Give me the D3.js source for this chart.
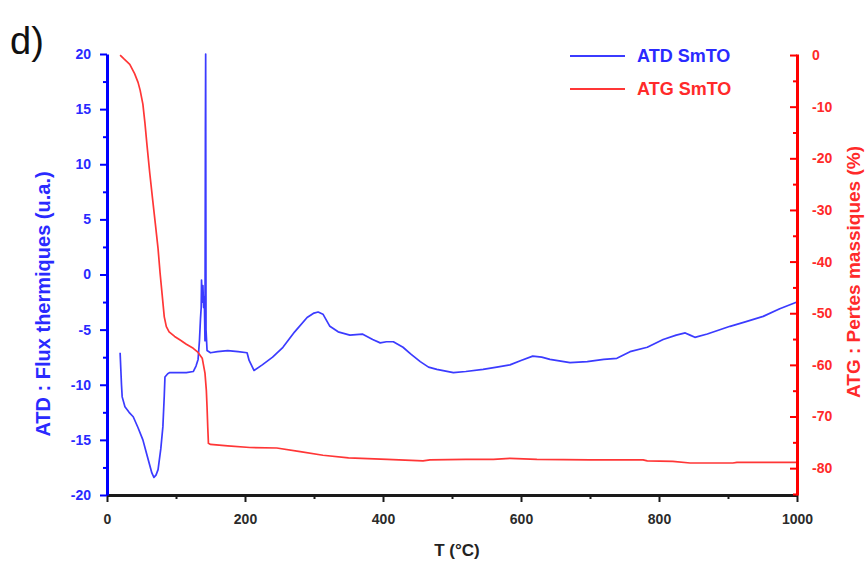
<!DOCTYPE html>
<html>
<head>
<meta charset="utf-8">
<script src="https://cdn.jsdelivr.net/npm/d3@7"></script>
<style>
  body { margin: 0; background: #fff; }
  svg { font-family: "Liberation Sans", Arial, sans-serif; }
</style>
</head>
<body>
<svg id="chart" width="867" height="563"></svg>
<script>
// ATD : flux thermique (axe gauche)
const atdT = [19, 21, 22, 26, 32, 38, 45, 52, 58, 65, 68, 71, 74, 78, 81, 83, 84, 88, 91, 105, 115, 125, 129, 132, 134, 135.5,
  136.5, 137, 138, 139, 140, 141, 142, 142.6, 143, 143.5, 145, 150, 160, 175, 190, 203, 206, 213, 225, 240, 255, 272, 290,
  300, 306, 313, 323, 335, 352, 370, 385, 396, 405, 415, 429, 440, 454, 466, 478, 502, 520, 545, 565, 584, 600, 617, 630,
  642, 671, 696, 720, 739, 758, 783, 806, 825, 838, 845, 852, 870, 903, 925, 951, 975, 1000];
const atdV = [-7.1, -10.0, -11.1, -12.0, -12.5, -12.9, -13.9, -15.0, -16.4, -18.0, -18.4, -18.2, -17.7, -15.8, -13.8, -11.0, -9.3,
  -9.0, -8.9, -8.9, -8.9, -8.8, -8.3, -7.7, -6.0, -4.0,
  -3.0, -0.5, -2.5, -1.0, -3.0, -2.0, -6.0, 13, 20, -5, -6.9, -7.1, -7.0, -6.9, -7.0, -7.1, -7.8, -8.7, -8.2, -7.5, -6.6, -5.2, -3.9,
  -3.5, -3.4, -3.6, -4.7, -5.2, -5.5, -5.4, -5.9, -6.2, -6.1, -6.1, -6.6, -7.2, -7.9, -8.4, -8.6, -8.9, -8.8, -8.6, -8.4, -8.2, -7.8, -7.4, -7.5,
  -7.7, -8.0, -7.9, -7.7, -7.6, -7.0, -6.6, -5.9, -5.5, -5.3, -5.5, -5.7, -5.4, -4.7, -4.3, -3.8, -3.1, -2.5];

// ATG : pertes massiques (axe droit)
const atgT = [19, 25, 33, 40, 45, 48, 52, 55, 58, 62, 66, 70, 74, 77, 80, 83, 86, 90, 98, 106, 115, 125, 132, 138, 142, 144, 145, 146, 147,
  150, 175, 207, 246, 280, 313, 350, 406, 458, 468, 520, 560, 584, 623, 700, 777, 783, 820, 845, 907, 913, 1000];
const atgV = [0, -0.8, -1.8, -3.6, -5.3, -6.8, -9.5, -13.2, -17.5, -22.9, -27.8, -32.6, -37.5, -42.3, -46.5, -50.7, -52.6, -53.6, -54.5,
  -55.2, -56.0, -56.8, -57.6, -58.7, -61.6, -65.0, -68.2, -72.0, -75.2,
  -75.4, -75.7, -76.0, -76.1, -76.8, -77.5, -78.0, -78.3, -78.6, -78.4, -78.3, -78.3, -78.1, -78.3, -78.4, -78.4, -78.6, -78.7, -79.0, -79.0, -78.9, -78.9];

const xTicks = [0, 200, 400, 600, 800, 1000];
const xMinor = [100, 300, 500, 700, 900];
const leftTicks = [-20, -15, -10, -5, 0, 5, 10, 15, 20];
const leftMinor = [-17.5, -12.5, -7.5, -2.5, 2.5, 7.5, 12.5, 17.5];
const rightTicks = [0, -10, -20, -30, -40, -50, -60, -70, -80];
const rightMinor = [-5, -15, -25, -35, -45, -55, -65, -75, -85];

const series = [
  { name: "ATD SmTO", color: "#3b3bff", axis: "left", t: atdT, v: atdV },
  { name: "ATG SmTO", color: "#ff3636", axis: "right", t: atgT, v: atgV }
];

const BLUE = "#0000ff", RED = "#ff0000", BLUE_TXT = "#2a2aff", RED_TXT = "#ff2a2a";
const box = { left: 107, right: 797, top: 54, bottom: 495 };
const fmt = d => String(d);

const svg = d3.select("#chart");

const x = d3.scaleLinear().domain([0, 1000]).range([box.left, box.right]);
const yL = d3.scaleLinear().domain([-20, 20]).range([box.bottom, box.top]);
const yR = d3.scaleLinear().domain([-85.2, 0.2]).range([box.bottom, box.top]);

// courbes
const line = (ys) => d3.line().x(d => x(d[0])).y(d => ys(d[1]));
series.forEach(s => {
  const pts = s.t.map((t, i) => [t, s.v[i]]);
  svg.append("path")
    .datum(pts)
    .attr("d", line(s.axis === "left" ? yL : yR))
    .attr("fill", "none")
    .attr("stroke", s.color)
    .attr("stroke-width", 1.7)
    .attr("stroke-linejoin", "round");
});

//axes
function styleAxis(g, color, txt, width) {
  g.select(".domain").attr("stroke", color).attr("stroke-width", width);
  g.selectAll(".tick line").attr("stroke", color).attr("stroke-width", 2);
  g.selectAll(".tick text").attr("fill", txt).style("font-size", "14px").style("font-weight", "bold");
}

const gx = svg.append("g").attr("transform", `translate(0,${box.bottom})`)
  .call(d3.axisBottom(x).tickValues(xTicks).tickFormat(fmt).tickSizeInner(7).tickSizeOuter(0).tickPadding(12));
styleAxis(gx, "#1a1a1a", "#2b2b2b", 3);
const gxm = svg.append("g").attr("transform", `translate(0,${box.bottom})`)
  .call(d3.axisBottom(x).tickValues(xMinor).tickSize(4).tickFormat(""));
gxm.select(".domain").remove();
gxm.selectAll(".tick line").attr("stroke", "#1a1a1a").attr("stroke-width", 2);

// axe gauche
const gl = svg.append("g").attr("transform", `translate(${box.left},0)`)
  .call(d3.axisLeft(yL).tickValues(leftTicks).tickFormat(fmt).tickSizeInner(7).tickSizeOuter(0).tickPadding(9));
styleAxis(gl, BLUE, BLUE_TXT, 3);
const glm = svg.append("g").attr("transform", `translate(${box.left},0)`)
  .call(d3.axisLeft(yL).tickValues(leftMinor).tickSize(4).tickFormat(""));
glm.select(".domain").remove();
glm.selectAll(".tick line").attr("stroke", BLUE).attr("stroke-width", 2);

// axe droit (ticks vers l'interieur)
const gr = svg.append("g").attr("transform", `translate(${box.right},0)`)
  .call(d3.axisRight(yR).tickValues(rightTicks).tickFormat(fmt).tickSizeInner(-7).tickSizeOuter(0).tickPadding(15));
styleAxis(gr, RED, RED_TXT, 3);
const grm = svg.append("g").attr("transform", `translate(${box.right},0)`)
  .call(d3.axisRight(yR).tickValues(rightMinor).tickSize(-4).tickFormat(""));
grm.select(".domain").remove();
grm.selectAll(".tick line").attr("stroke", RED).attr("stroke-width", 2);

// titres
svg.append("text")
  .attr("x", (box.left + box.right) / 2 + 5).attr("y", 556)
  .attr("text-anchor", "middle")
  .style("font-size", "17px").style("font-weight", "bold").attr("fill", "#222")
  .text("T (°C)");

svg.append("text")
  .attr("transform", "translate(50,304) rotate(-90)")
  .attr("text-anchor", "middle")
  .style("font-size", "20px").style("font-weight", "bold").attr("fill", BLUE_TXT)
  .text("ATD : Flux thermiques (u.a.)");

svg.append("text")
  .attr("transform", "translate(860,272) rotate(-90)")
  .attr("text-anchor", "middle")
  .style("font-size", "19px").style("font-weight", "bold").attr("fill", RED_TXT)
  .text("ATG : Pertes massiques (%)");

svg.append("text")
  .attr("x", 10).attr("y", 54)
  .style("font-size", "38px").attr("fill", "#111")
  .text("d)");

// legende
const leg = svg.append("g");
series.forEach((s, i) => {
  const ly = 56 + i * 33;
  leg.append("line")
    .attr("x1", 570).attr("x2", 625).attr("y1", ly).attr("y2", ly)
    .attr("stroke", s.color).attr("stroke-width", 1.8);
  leg.append("text")
    .attr("x", 637).attr("y", ly + 6)
    .style("font-size", "18px").style("font-weight", "bold")
    .attr("fill", i === 0 ? BLUE_TXT : RED_TXT)
    .text(s.name);
});
</script>
</body>
</html>
